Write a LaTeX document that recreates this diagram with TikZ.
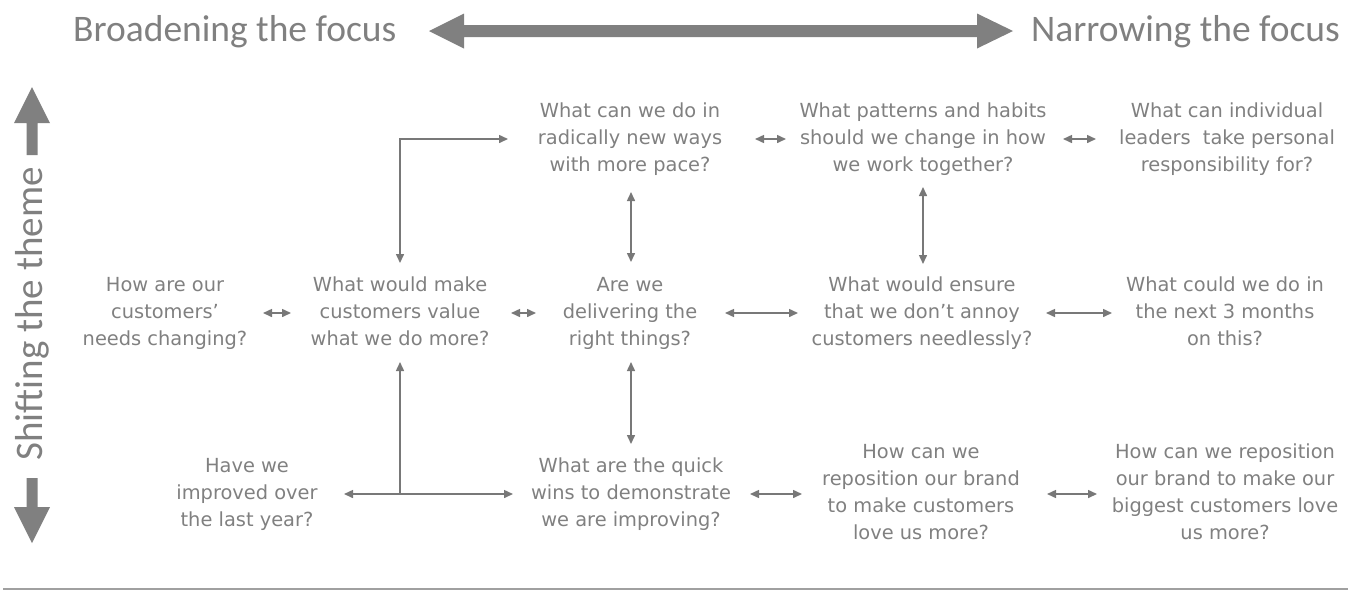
\documentclass[tikz,border=0pt]{standalone}
\usepackage{fontspec}
\setmainfont{DejaVu Sans}
\newfontfamily\headfont{Carlito}
\usetikzlibrary{arrows.meta,calc}
\definecolor{txtgray}{RGB}{128,128,128}
\definecolor{linegray}{RGB}{120,120,120}
\definecolor{bandgray}{RGB}{128,128,128}
\definecolor{rulegray}{RGB}{160,160,160}
% invisible rule fixing the height of the first and last text lines
\newcommand\qstrut{\rule[-4pt]{0pt}{26pt}}
\begin{document}
\begin{tikzpicture}[x=1pt,y=-1pt,
  q/.style={align=center,inner sep=0pt,text=txtgray,
    font=\fontsize{19.4}{27}\selectfont,
    execute at begin node=\qstrut,execute at end node=\qstrut},
  head/.style={inner sep=0pt,text=txtgray,font=\headfont\fontsize{37.5}{40}\selectfont},
  tip/.tip={Triangle[length=9pt,width=8pt]},
  conn/.style={draw=linegray,line width=1.5pt,tip-tip},
  oneway/.style={draw=linegray,line width=1.5pt,-tip},
  band/.style={fill=bandgray,draw=none}]
\useasboundingbox (0,0) rectangle (1348,590);

% axis captions
\node[head,anchor=base west] (broad) at (73,41) {Broadening the focus};
\node[head,anchor=base east] (narrow) at (1340,41) {Narrowing the focus};
\node[head,rotate=90,font=\headfont\fontsize{39}{42}\selectfont] (shift) at (32,314) {Shifting the theme};

% broad horizontal double arrow
\path[band] (429,31) -- (464,13.5) -- (464,25) -- (977,25) -- (977,13.5)
  -- (1013,31) -- (977,48.5) -- (977,37) -- (464,37) -- (464,48.5) -- cycle;
% vertical arrows beside the rotated caption
\path[band] (32,87) -- (50,123) -- (37.5,123) -- (37.5,155) -- (26.5,155)
  -- (26.5,123) -- (14,123) -- cycle;
\path[band] (32,543) -- (50,507) -- (37.5,507) -- (37.5,478) -- (26.5,478)
  -- (26.5,507) -- (14,507) -- cycle;

% questions, top row
\node[q] (A1) at (630,139) {What can we do in\\radically new ways\\with more pace?};
\node[q] (A2) at (923,139) {What patterns and habits\\should we change in how\\we work together?};
\node[q] (A3) at (1227,139) {What can individual\\leaders\ \ take personal\\responsibility for?};
% middle row
\node[q] (B0) at (165,313) {How are our\\customers’\\needs changing?};
\node[q] (B1) at (400,313) {What would make\\customers value\\what we do more?};
\node[q] (B2) at (630,313) {Are we\\delivering the\\right things?};
\node[q] (B3) at (922,313) {What would ensure\\that we don’t annoy\\customers needlessly?};
\node[q] (B4) at (1225,313) {What could we do in\\the next 3 months\\on this?};
% bottom row
\node[q] (C0) at (247,494) {Have we\\improved over\\the last year?};
\node[q] (C1) at (631,494) {What are the quick\\wins to demonstrate\\we are improving?};
\node[q] (C2) at (921,494) {How can we\\reposition our brand\\to make customers\\love us more?};
\node[q] (C3) at (1225,494) {How can we reposition\\our brand to make our\\biggest customers love\\us more?};

% horizontal links
\draw[conn] ($(A1)+(125,0)$) -- ($(A2)+(-137,0)$);
\draw[conn] ($(A2)+(140,0)$) -- ($(A3)+(-131,0)$);
\draw[conn] ($(B0)+(98,0)$) -- ($(B1)+(-109,0)$);
\draw[conn] ($(B1)+(111,0)$) -- ($(B2)+(-94,0)$);
\draw[conn] ($(B2)+(95,0)$) -- ($(B3)+(-124,0)$);
\draw[conn] ($(B3)+(124,0)$) -- ($(B4)+(-113,0)$);
\draw[conn] ($(C0)+(97,0)$) -- ($(C1)+(-118,0)$);
\draw[conn] ($(C1)+(119,0)$) -- ($(C2)+(-119,0)$);
\draw[conn] ($(C2)+(126,0)$) -- ($(C3)+(-128,0)$);

% vertical links
\draw[conn] ($(A1)+(1,53)$) -- ($(B2)+(1,-51)$);
\draw[conn] ($(B2)+(1,49)$) -- ($(C1)+(0,-50)$);
\draw[conn] ($(A2)+(0,48)$) -- ($(B3)+(1,-49)$);

% elbow from the customer-value question up to the top row
\draw[conn] ($(B1)+(0,-50)$) |- ($(A1)+(-122,0)$);

% branch from the bottom link up to the customer-value question
\coordinate (J) at (B1 |- C0);
\draw[oneway] (J) -- ($(B1)+(0,49)$);

% footer rule
\draw[rulegray,line width=2pt] (3,588.5) -- (1348,588.5);
\end{tikzpicture}
\end{document}
